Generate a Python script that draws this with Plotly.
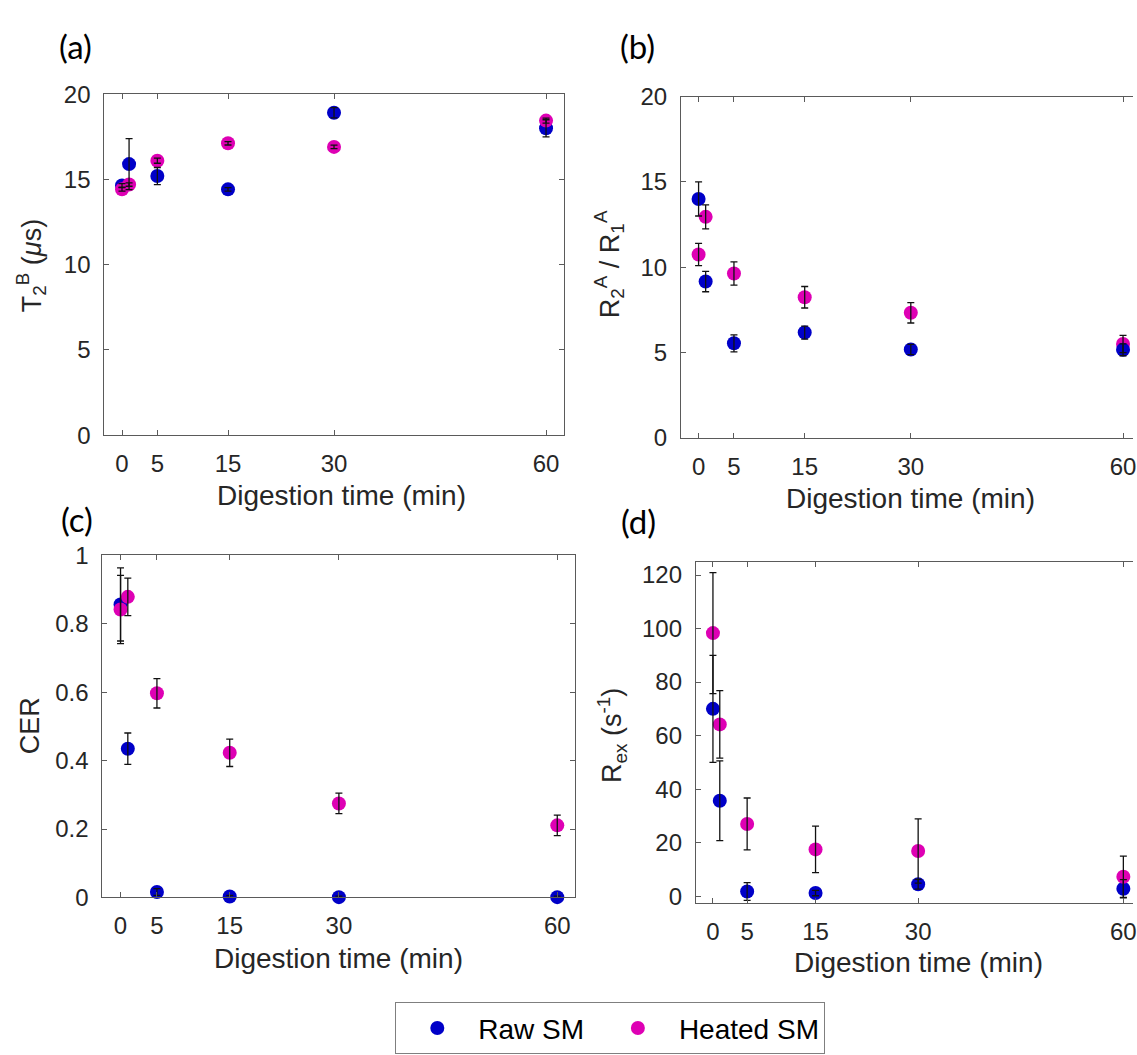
import plotly.graph_objects as go

# ---------------- data ----------------
times = [0, 1, 5, 15, 30, 60]
x_tick_vals = [0, 5, 15, 30, 60]
x_tick_text = ["0", "5", "15", "30", "60"]

t2b_raw = [14.65, 15.9, 15.2, 14.42, 18.91, 18.0]
t2b_raw_err = [0.1, 1.5, 0.5, 0.1, 0.3, 0.5]
t2b_heated = [14.42, 14.7, 16.1, 17.12, 16.91, 18.45]
t2b_heated_err = [0.1, 0.1, 0.15, 0.1, 0.1, 0.15]

ratio_raw = [14.0, 9.16, 5.54, 6.17, 5.18, 5.16]
ratio_raw_err = [1.0, 0.6, 0.5, 0.38, 0.3, 0.35]
ratio_heated = [10.74, 12.95, 9.63, 8.24, 7.33, 5.5]
ratio_heated_err = [0.65, 0.7, 0.68, 0.63, 0.6, 0.5]

cer_raw = [0.857, 0.435, 0.016, 0.003, 0.001, 0.001]
cer_raw_err = [0.107, 0.046, 0.01, 0.003, 0.003, 0.003]
cer_heated = [0.842, 0.879, 0.597, 0.423, 0.275, 0.211]
cer_heated_err = [0.1, 0.055, 0.043, 0.04, 0.03, 0.03]

rex_raw = [70.0, 35.7, 1.8, 1.2, 4.5, 2.8]
rex_raw_err = [20.0, 14.9, 3.3, 1.0, 1.8, 3.4]
rex_heated = [98.3, 64.2, 27.0, 17.5, 16.9, 7.3]
rex_heated_err = [22.6, 12.6, 9.7, 8.7, 12.0, 7.7]

series_names = ["Raw SM", "Heated SM"]
panel_labels = ["(a)", "(b)", "(c)", "(d)"]

# ---------------- style ----------------
W, H = 1137, 1055
BLUE = "#0000C8"
MAGENTA = "#DE00B4"
AXIS_COLOR = "#5a5a5a"
TEXT_COLOR = "#262626"
FONT = "Liberation Sans, Arial, sans-serif"
TICK_SIZE = 24
TITLE_SIZE = 28
MSIZE = 14
NBSP = "\u00a0"


def px_x(p):
    return p / W


def px_y(p):
    return 1 - p / H


fig = go.Figure()

panels = [
    ("", t2b_raw, t2b_raw_err, t2b_heated, t2b_heated_err, "rh"),
    ("2", ratio_raw, ratio_raw_err, ratio_heated, ratio_heated_err, "hr"),
    ("3", cer_raw, cer_raw_err, cer_heated, cer_heated_err, "rh"),
    ("4", rex_raw, rex_raw_err, rex_heated, rex_heated_err, "rh"),
]

legend_names = [series_names[0] + NBSP, series_names[1]]

for i, (sid, raw, raw_e, heat, heat_e, order) in enumerate(panels):
    xa = "x" + sid
    ya = "y" + sid
    marker_traces = {
        "r": go.Scatter(x=times, y=raw, mode="markers", name=legend_names[0],
                        legendgroup="raw", showlegend=(i == 0), legendrank=1,
                        marker=dict(color=BLUE, size=MSIZE, line=dict(width=0)),
                        cliponaxis=False, xaxis=xa, yaxis=ya),
        "h": go.Scatter(x=times, y=heat, mode="markers", name=legend_names[1],
                        legendgroup="heated", showlegend=(i == 0), legendrank=2,
                        marker=dict(color=MAGENTA, size=MSIZE, line=dict(width=0)),
                        cliponaxis=False, xaxis=xa, yaxis=ya),
    }
    for k in order:
        fig.add_trace(marker_traces[k])
    # error bars drawn on top of the markers
    for vals, errs, grp in ((raw, raw_e, "raw"), (heat, heat_e, "heated")):
        fig.add_trace(go.Scatter(
            x=times, y=vals, mode="markers", showlegend=False, legendgroup=grp,
            marker=dict(size=1, opacity=0, color="black"),
            error_y=dict(type="data", array=errs, visible=True, color="#111111",
                         thickness=1.3, width=3.5),
            cliponaxis=False, hoverinfo="skip", xaxis=xa, yaxis=ya))

dom = {
    "": dict(x=(104.7, 565.7), y=(82.3, 432.3), xr=[-2.5, 62.5], yr=[0, 20],
             yt=[0, 5, 10, 15, 20], ymirror="ticks"),
    "2": dict(x=(683.3, 1137), y=(84.7, 435), xr=[-2.5, 61.41], yr=[0, 20],
              yt=[0, 5, 10, 15, 20], ymirror=False),
    "3": dict(x=(102.7, 577.5), y=(555.7, 906.7), xr=[-2.5, 62.5], yr=[0, 1],
              yt=[0, 0.2, 0.4, 0.6, 0.8, 1], ymirror="ticks"),
    "4": dict(x=(698.3, 1137), y=(562.0, 912.3), xr=[-2.5, 61.41], yr=[-2.5, 125],
              yt=[0, 20, 40, 60, 80, 100, 120], ymirror=False),
}

layout_axes = {}
for sid, d in dom.items():
    layout_axes["xaxis" + sid] = dict(
        domain=[px_x(d["x"][0]), min(1.0, px_x(d["x"][1]))],
        range=d["xr"], anchor="y" + sid,
        tickmode="array", tickvals=x_tick_vals, ticktext=x_tick_text,
        ticks="inside", ticklen=5, tickwidth=1, tickcolor=AXIS_COLOR,
        showline=True, linecolor=AXIS_COLOR, linewidth=1, mirror="ticks",
        showgrid=False, zeroline=False, ticklabeloverflow="allow",
        ticklabelstandoff=7,
        tickfont=dict(family=FONT, size=TICK_SIZE, color=TEXT_COLOR),
    )
    layout_axes["yaxis" + sid] = dict(
        domain=[px_y(d["y"][1]), px_y(d["y"][0])],
        range=d["yr"], anchor="x" + sid,
        tickmode="array", tickvals=d["yt"],
        ticks="inside", ticklen=5, tickwidth=1, tickcolor=AXIS_COLOR,
        showline=True, linecolor=AXIS_COLOR, linewidth=1, mirror=d["ymirror"],
        showgrid=False, zeroline=False, ticklabeloverflow="allow",
        ticklabelstandoff=8,
        tickfont=dict(family=FONT, size=TICK_SIZE, color=TEXT_COLOR),
    )

annotations = []
# panel labels
for lab, (cx, cy) in zip(panel_labels, [(75.5, 33), (640, 33), (77, 518), (641, 520)]):
    annotations.append(dict(text=lab, x=px_x(cx), y=px_y(cy), xref="paper", yref="paper",
                            xanchor="center", yanchor="middle", showarrow=False,
                            font=dict(family="Lato, Carlito, sans-serif", size=33, color="black")))
# x titles
for cx, cy in [(343, 494), (914, 497), (340, 969), (922, 973)]:
    annotations.append(dict(text="Digestion time (min)", x=px_x(cx), y=px_y(cy),
                            xref="paper", yref="paper", xanchor="center", yanchor="middle",
                            showarrow=False,
                            font=dict(family=FONT, size=TITLE_SIZE, color=TEXT_COLOR)))
# y titles
y_titles = [
    ("T<sub>2</sub><sup>B</sup> (<i>\u03bc</i>s)", 32, 258),
    ("R<sub>2</sub><sup>A</sup> / R<sub>1</sub><sup>A</sup>", 612, 257),
    ("CER", 30, 730),
    ("R<sub>ex</sub> (s<sup>-1</sup>)", 614, 740),
]
for txt, cx, cy in y_titles:
    annotations.append(dict(text=txt, x=px_x(cx), y=px_y(cy), xref="paper", yref="paper",
                            xanchor="center", yanchor="middle", textangle=-90,
                            showarrow=False,
                            font=dict(family=FONT, size=27, color=TEXT_COLOR)))

fig.update_layout(
    width=W, height=H,
    margin=dict(l=0, r=0, t=0, b=0),
    paper_bgcolor="white", plot_bgcolor="white",
    showlegend=True,
    legend=dict(orientation="h", x=px_x(396.7), xanchor="left",
                y=px_y(1014.3), yanchor="top",
                bordercolor="#7f7f7f", borderwidth=1, bgcolor="white",
                font=dict(family=FONT, size=28, color="black"),
                indentation=0, itemwidth=72, traceorder="normal"),
    annotations=annotations,
    **layout_axes,
)

fig.write_html("out.html")
